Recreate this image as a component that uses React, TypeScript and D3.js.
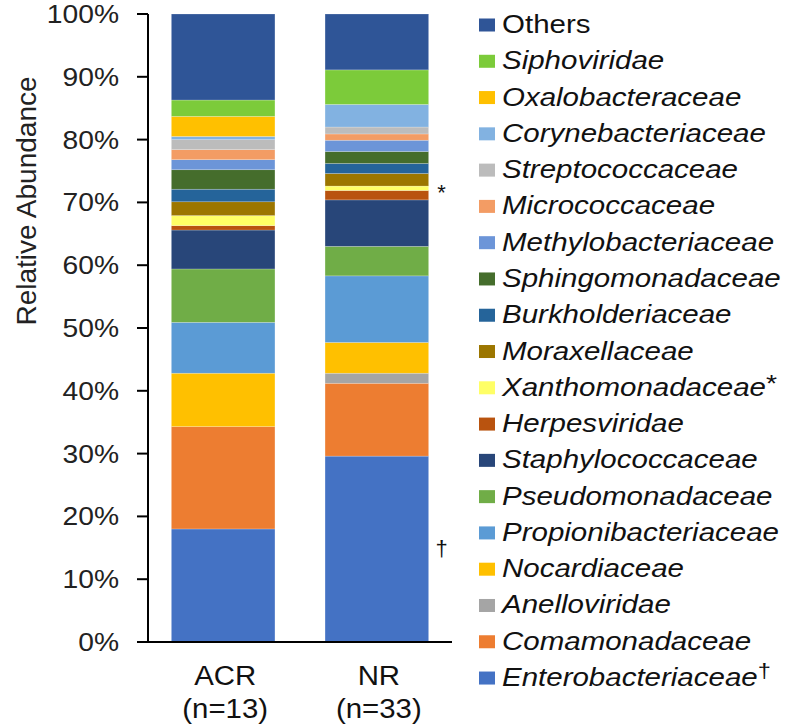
import React from "react";
import * as d3 from "d3";

// Families listed bottom-to-top of the stacks
const families = [
  "Enterobacteriaceae",
  "Comamonadaceae",
  "Anelloviridae",
  "Nocardiaceae",
  "Propionibacteriaceae",
  "Pseudomonadaceae",
  "Staphylococcaceae",
  "Herpesviridae",
  "Xanthomonadaceae",
  "Moraxellaceae",
  "Burkholderiaceae",
  "Sphingomonadaceae",
  "Methylobacteriaceae",
  "Micrococcaceae",
  "Streptococcaceae",
  "Corynebacteriaceae",
  "Oxalobacteraceae",
  "Siphoviridae",
  "Others",
];
const legendMarks = ["†", "", "", "", "", "", "", "", "*", "", "", "", "", "", "", "", "", "", ""];
const colors = [
  "#4472C4",
  "#ED7D31",
  "#A5A5A5",
  "#FFC000",
  "#5B9BD5",
  "#70AD47",
  "#284679",
  "#B9530F",
  "#FFFF66",
  "#9C7600",
  "#25649A",
  "#456D2C",
  "#6C95D8",
  "#F39C64",
  "#BCBCBC",
  "#82B2E1",
  "#FFC000",
  "#7CCB3A",
  "#2F5597",
];
const groups = ["ACR", "NR"];
const groupSizes = ["(n=13)", "(n=33)"];
// percent values, same order as families
const acrValues = [18.0, 16.3, 0.0, 8.5, 8.1, 8.5, 6.2, 0.7, 1.6, 2.2, 2.0, 3.1, 1.6, 1.6, 1.6, 0.5, 3.2, 2.6, 13.7];
const nrValues = [29.6, 11.6, 1.6, 4.9, 10.6, 4.7, 7.4, 1.5, 0.7, 2.0, 1.6, 1.9, 1.8, 1.0, 1.1, 3.6, 0.0, 5.5, 8.9];
const yTicks = [0, 10, 20, 30, 40, 50, 60, 70, 80, 90, 100];
const barMarks = [
  { group: "NR", value: 72.3, mark: "*" },
  { group: "NR", value: 15, mark: "†" },
];

const FONT = "'Liberation Sans', Arial, Helvetica, sans-serif";

export default function App() {
  const W = 787;
  const H = 726;
  const axisX = 148;
  const y = d3.scaleLinear().domain([0, 100]).range([642, 14]);
  const x = d3
    .scaleBand<string>()
    .domain(groups)
    .range([axisX, 452])
    .paddingInner(0.326)
    .paddingOuter(0.152);

  const rows = groups.map((g, gi) => {
    const vals = gi === 0 ? acrValues : nrValues;
    const o: Record<string, any> = { group: g };
    families.forEach((f, i) => (o[f] = vals[i]));
    return o;
  });
  const series = d3.stack<any>().keys(families)(rows);

  const legendX = 479;
  const legendTop = 25;
  const legendStep = 36.28;
  const legendOrder = families.map((f, i) => i).reverse();

  return (
    <svg
      width={W}
      height={H}
      style={{ position: "absolute", left: 0, top: 0, background: "#fff" }}
      fontFamily={FONT}
    >
      {/* bars */}
      {series.map((s, si) => (
        <g key={families[si]} fill={colors[si]}>
          {s.map((d: any) => {
            const h = y(d[0]) - y(d[1]);
            if (h <= 0) return null;
            return (
              <rect
                key={d.data.group}
                x={x(d.data.group)}
                y={y(d[1])}
                width={x.bandwidth()}
                height={h}
                stroke="#ffffff"
                strokeOpacity={0.35}
                strokeWidth={0.6}
              />
            );
          })}
        </g>
      ))}

      {/* y axis */}
      <line x1={axisX} x2={axisX} y1={y(100)} y2={y(0)} stroke="#000" strokeWidth={2} />
      <line x1={axisX} x2={452} y1={y(0)} y2={y(0)} stroke="#000" strokeWidth={2} />
      {yTicks.map((t) => (
        <g key={t}>
          <line x1={137} x2={axisX} y1={y(t)} y2={y(t)} stroke="#000" strokeWidth={2} />
          <text
            transform={`translate(119,${y(t) + 9}) scale(1.13,1)`}
            textAnchor="end"
            fontSize={25}
            fill="#222"
          >
            {t}%
          </text>
        </g>
      ))}
      <text
        transform={`translate(36,201) rotate(-90)`}
        textAnchor="middle"
        fontSize={28}
        fill="#222"
      >
        Relative Abundance
      </text>

      {/* x labels */}
      {groups.map((g, i) => (
        <g key={g}>
          <text
            transform={`translate(${(x(g) as number) + x.bandwidth() / 2 + 2},685) scale(1.05,1)`}
            textAnchor="middle"
            fontSize={28}
            fill="#111"
          >
            {g}
          </text>
          <text
            transform={`translate(${(x(g) as number) + x.bandwidth() / 2 + 2},718) scale(1.05,1)`}
            textAnchor="middle"
            fontSize={28}
            fill="#111"
          >
            {groupSizes[i]}
          </text>
        </g>
      ))}

      {/* significance marks next to NR bar */}
      {barMarks.map((m, i) => (
        <text
          key={i}
          x={(x(m.group) as number) + x.bandwidth() + 13}
          y={y(m.value) + (m.mark === "*" ? 12 : 8)}
          textAnchor="middle"
          fontSize={22}
          fill="#111"
        >
          {m.mark}
        </text>
      ))}

      {/* legend */}
      {legendOrder.map((fi, row) => {
        const cy = legendTop + row * legendStep;
        const name = families[fi];
        return (
          <g key={name}>
            <rect x={legendX} y={cy - 6.5} width={16} height={13} fill={colors[fi]} />
            <text
              transform={`translate(${legendX + 23},${cy + 8}) scale(1.18,1)`}
              fontSize={25}
              fill="#111"
              fontStyle={name === "Others" ? "normal" : "italic"}
            >
              {name}
              {legendMarks[fi] ? (
                <tspan fontStyle="normal" dy={legendMarks[fi] === "†" ? -8 : -4} fontSize={legendMarks[fi] === "†" ? 20 : 24}>
                  {legendMarks[fi]}
                </tspan>
              ) : null}
            </text>
          </g>
        );
      })}
    </svg>
  );
}
